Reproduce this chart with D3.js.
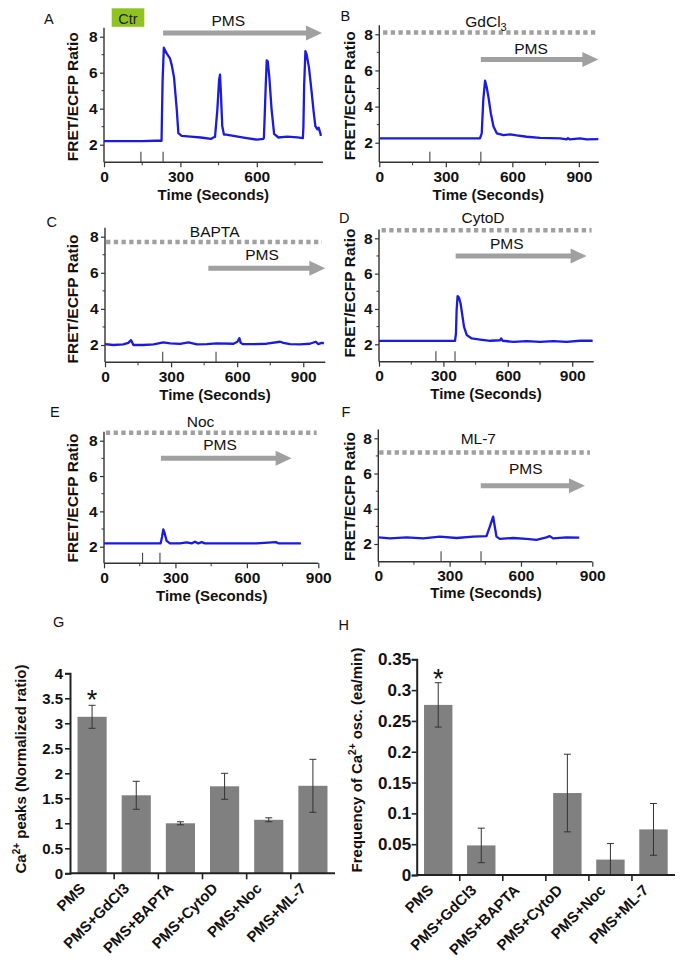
<!DOCTYPE html>
<html><head><meta charset="utf-8">
<script src="https://cdn.jsdelivr.net/npm/d3@7"></script>
<style>body{margin:0;background:#fff;}svg{display:block;}text{font-family:"Liberation Sans",Arial,Helvetica,sans-serif;}</style>
</head><body><svg id="c" width="682" height="966"></svg>
<script>
// ---------------- DATA ----------------
// Panel A (Ctr -> PMS)
const tA = [0,50,100,150,200,226,230,235,246,259,266,275,286,292,305,340,380,420,429,436,445,452,455.5,459,464.5,471,480,520,560,600,626,628,635,639,643,649,658,668,685,720,760,781,783,786,791,796,805,815,823,830,838,843,849,852];
const rA = [2.2,2.2,2.2,2.2,2.22,2.22,5.5,7.39,7.07,6.8,6.42,5.74,3.9,2.64,2.49,2.45,2.4,2.32,2.4,2.43,3.92,5.6,5.89,4.87,3.02,2.56,2.56,2.46,2.37,2.28,2.32,2.4,5.23,6.68,6.63,5.8,3.98,2.6,2.4,2.45,2.41,2.37,2.97,5.3,7.2,7.0,6.28,4.98,3.87,3.03,2.85,2.95,2.66,2.49];
const marksA = [145,232];
const pmsA = [232,856,8.2];

// Panel B (GdCl3)
const tB = [0,100,200,300,400,454,462,469,477,484,492,503,515,530,560,590,620,665,725,815,845,851,860,905,935,988];
const rB = [2.24,2.24,2.24,2.24,2.24,2.24,2.52,4.36,5.43,5.1,4.55,3.63,2.9,2.52,2.42,2.46,2.4,2.33,2.27,2.24,2.18,2.25,2.18,2.24,2.18,2.2];
const marksB = [228,458];
const pmsB = [458,988,6.6];
const drugB = [17,988,8.1];

// Panel C (BAPTA)
const tC = [0,38,83,106,118,129,174,220,265,296,341,379,417,462,507,583,601,610,616,625,674,734,795,810,840,885,930,957,968,983,994];
const rC = [2.05,2.0,2.03,2.12,2.27,2.0,2.0,2.03,2.15,2.09,2.06,2.14,2.03,2.05,2.09,2.07,2.18,2.38,2.12,2.05,2.05,2.07,2.18,2.12,2.05,2.03,2.07,2.18,2.05,2.12,2.1];
const marksC = [262,504];
const pmsC = [469,1000,6.25];
const drugC = [5,985,7.7];

// Panel D (CytoD)
const tD = [0,100,200,300,354,358.5,361.6,366,372.5,380,388,396,409,432,471,518,564,569,576,626,688,750,812,874,936,995];
const rD = [2.19,2.19,2.19,2.19,2.19,2.62,3.94,4.73,4.65,4.31,3.65,2.99,2.52,2.33,2.27,2.2,2.23,2.33,2.2,2.14,2.18,2.14,2.18,2.14,2.2,2.2];
const marksD = [265,354];
const pmsD = [357,967,7.0];
const drugD = [12,990,8.45];

// Panel E (Noc)
const tE = [0,100,200,238,244,249,255,263,277,319,347,368,382,396,410,424,543,640,722,732,780,827];
const rE = [2.19,2.19,2.19,2.19,2.57,2.98,2.75,2.33,2.19,2.19,2.25,2.19,2.28,2.19,2.26,2.19,2.19,2.19,2.26,2.19,2.19,2.19];
const marksE = [162,235];
const pmsE = [239,788,7.0];
const drugE = [8,893,8.45];

// Panel F (ML-7)
const tF = [0,49,119,189,259,329,399,455,469,483,490,497,511,567,623,665,707,721,735,791,845];
const rF = [2.38,2.32,2.38,2.32,2.42,2.34,2.42,2.45,2.98,3.55,2.98,2.42,2.29,2.34,2.29,2.23,2.38,2.45,2.32,2.38,2.36];
const marksF = [264,432];
const pmsF = [431,869,5.3];
const drugF = [4,890,7.2];

const ratioTicks = [2,4,6,8];
const ratioMinor = [3,5,7];
const timeTicks = [0,300,600,900];
const timeMinor = [150,450,750];

// Panels G, H
const categories = ["PMS","PMS+GdCl3","PMS+BAPTA","PMS+CytoD","PMS+Noc","PMS+ML-7"];
const peakMean = [3.13,1.56,1.0,1.74,1.07,1.75];
const peakErr  = [0.23,0.28,0.03,0.26,0.04,0.53];
const freqMean = [0.276,0.048,0,0.133,0.025,0.074];
const freqErr  = [0.036,0.028,0,0.063,0.026,0.042];
const peakTicks = [0,0.5,1,1.5,2,2.5,3,3.5,4];
const freqTicks = [0,0.05,0.1,0.15,0.2,0.25,0.3,0.35];

// ---------------- DRAWING ----------------
const svg = d3.select('#c');
const GRAY = '#a0a0a0', BLUE = '#1a1ae0', AX = '#333';

function addText(g, x, y, s, opt) {
  opt = opt || {};
  return g.append('text').attr('x', x).attr('y', y).text(s)
    .attr('font-size', opt.size || 15).attr('font-weight', opt.bold ? 'bold' : 'normal')
    .attr('text-anchor', opt.anchor || 'start').attr('fill', opt.fill || '#111');
}

function linePanel(p) {
  const x = d3.scaleLinear().domain([0, p.tMax]).range([p.x0, p.x1]);
  const y = d3.scaleLinear().domain([2, 8]).range([p.y2, p.y8]);
  const g = svg.append('g');
  const yAx = p.yAxisPix;
  const gy = g.append('g').attr('transform', `translate(${p.x0},0)`)
    .call(d3.axisLeft(y).tickValues(ratioTicks).tickSize(4).tickPadding(2.4).tickFormat(d3.format('d')));
  gy.select('.domain').remove();
  gy.selectAll('.tick line').attr('stroke', AX).attr('stroke-width', 1.2);
  gy.selectAll('text').attr('font-size', 15.5).attr('font-weight', 'bold').attr('fill', '#111');
  g.selectAll('.ymin').data(ratioMinor).join('line').attr('class','ymin')
    .attr('x1', p.x0 - 2.5).attr('x2', p.x0).attr('y1', d => y(d)).attr('y2', d => y(d))
    .attr('stroke', AX).attr('stroke-width', 1);
  g.append('line').attr('x1', p.x0).attr('x2', p.x0).attr('y1', yAx).attr('y2', y(8.5))
    .attr('stroke', AX).attr('stroke-width', 1.4);
  const gx = g.append('g').attr('transform', `translate(0,${yAx})`)
    .call(d3.axisBottom(x).tickValues(timeTicks.filter(d => d <= p.tMax)).tickSize(5).tickPadding(3.5).tickFormat(d3.format('d')));
  gx.select('.domain').remove();
  gx.selectAll('.tick line').attr('stroke', AX).attr('stroke-width', 1.2);
  gx.selectAll('text').attr('font-size', 15.5).attr('font-weight', 'bold').attr('fill', '#111');
  g.selectAll('.xmin').data(timeMinor.filter(d => d < p.tMax)).join('line').attr('class','xmin')
    .attr('x1', d => x(d)).attr('x2', d => x(d)).attr('y1', yAx).attr('y2', yAx + 3)
    .attr('stroke', AX).attr('stroke-width', 1);
  g.append('line').attr('x1', p.x0).attr('x2', p.x1).attr('y1', yAx).attr('y2', yAx)
    .attr('stroke', AX).attr('stroke-width', 1.4);
  g.selectAll('.mk').data(p.marks).join('line').attr('class','mk')
    .attr('x1', d => x(d)).attr('x2', d => x(d)).attr('y1', yAx).attr('y2', yAx - 10.5)
    .attr('stroke', '#444').attr('stroke-width', 1.1);
  if (p.drug) {
    g.append('line').attr('x1', x(p.drug[0])).attr('x2', x(p.drug[1]))
      .attr('y1', y(p.drug[2])).attr('y2', y(p.drug[2]))
      .attr('stroke', GRAY).attr('stroke-width', 4.5).attr('stroke-dasharray', '4.3,3.4');
  }
  const ay = y(p.pms[2]), ax0 = x(p.pms[0]), ax1 = x(p.pms[1]);
  g.append('line').attr('x1', ax0).attr('x2', ax1 - 14).attr('y1', ay).attr('y2', ay)
    .attr('stroke', GRAY).attr('stroke-width', 5);
  g.append('path').attr('d', `M${ax1},${ay} L${ax1-16},${ay-7.5} L${ax1-16},${ay+7.5} Z`).attr('fill', GRAY);
  const pts = p.t.map((t, i) => [t, p.r[i]]);
  g.append('path').datum(pts).attr('fill', 'none').attr('stroke', BLUE).attr('stroke-width', 2.3)
    .attr('stroke-linejoin', 'round')
    .attr('d', d3.line().x(d => x(d[0])).y(d => y(d[1])));
  addText(g, p.lab[0], p.lab[1], p.id, {size: 14.5});
  addText(g, p.pmsLab[0], p.pmsLab[1], 'PMS', {size: 15.5, anchor: 'middle'});
  if (p.drugName) {
    const tt = addText(g, p.drugLab[0], p.drugLab[1], p.drugName, {size: 15.5, anchor: 'middle'});
    if (p.drugSub) tt.append('tspan').attr('font-size', 11).attr('dy', 4).text(p.drugSub);
  }
  g.append('text').attr('transform', `translate(${p.yTitle[0]},${p.yTitle[1]}) rotate(-90)`)
    .attr('text-anchor', 'middle').attr('font-size', 15.5).attr('font-weight', 'bold').attr('fill', '#111')
    .text('FRET/ECFP Ratio');
  addText(g, p.xTitle[0], p.xTitle[1], 'Time (Seconds)', {size: 15, bold: true, anchor: 'middle'});
}

const lay = [
  {id:'A', t:tA, r:rA, marks:marksA, pms:pmsA, drug:null, tMax:860, x0:104, x1:323.0, y2:144.7, y8:36.7, yAxisPix:162.3,
   lab:[44,24], pmsLab:[228.3,26], yTitle:[78,96.7], xTitle:[213.3,200]},
  {id:'B', t:tB, r:rB, marks:marksB, pms:pmsB, drug:drugB, tMax:990, x0:379.3, x1:598.8, y2:142.7, y8:34.3, yAxisPix:162.3,
   lab:[340.5,20.5], pmsLab:[531,54], drugName:'GdCl', drugSub:'3', drugLab:[486,26.5], yTitle:[355,95.8], xTitle:[488.3,200]},
  {id:'C', t:tC, r:rC, marks:marksC, pms:pmsC, drug:drugC, tMax:1000, x0:105, x1:325.3, y2:345, y8:236.7, yAxisPix:362.3,
   lab:[46.5,226.5], pmsLab:[262,260], drugName:'BAPTA', drugLab:[214.7,236.5], yTitle:[78.3,299], xTitle:[215,400]},
  {id:'D', t:tD, r:rD, marks:marksD, pms:pmsD, drug:drugD, tMax:1000, x0:379, x1:593.7, y2:344.3, y8:238.3, yAxisPix:361.7,
   lab:[339,223], pmsLab:[506.7,249.3], drugName:'CytoD', drugLab:[483,223.3], yTitle:[355,293], xTitle:[486,398.5]},
  {id:'E', t:tE, r:rE, marks:marksE, pms:pmsE, drug:drugE, tMax:900, x0:104, x1:318.3, y2:546.7, y8:440.7, yAxisPix:563.3,
   lab:[50,416.5], pmsLab:[220,450], drugName:'Noc', drugLab:[200.5,426.5], yTitle:[78.3,498], xTitle:[211.7,601]},
  {id:'F', t:tF, r:rF, marks:marksF, pms:pmsF, drug:drugF, tMax:900, x0:378.3, x1:592.3, y2:544, y8:438.3, yAxisPix:561.7,
   lab:[341.5,416.5], pmsLab:[525.7,474.3], drugName:'ML-7', drugLab:[478.3,444], yTitle:[355,496.5], xTitle:[486,598]}
];
lay.forEach(linePanel);

svg.append('rect').attr('x', 111.7).attr('y', 8.3).attr('width', 32.6).attr('height', 18.5).attr('fill', '#8fc31f');
addText(svg, 128, 23.5, 'Ctr', {size: 14.5, anchor: 'middle', fill: '#222'});

function barPanel(o) {
  const x = d3.scaleBand().domain(categories).range([o.x0, o.x1]).paddingInner(0.34).paddingOuter(0.17);
  const y = d3.scaleLinear().domain([0, o.yMax]).range([o.yb, o.yt]);
  const g = svg.append('g');
  const rows = categories.map((c, i) => ({c, m: o.mean[i], e: o.err[i]}));
  g.selectAll('rect.bar').data(rows).join('rect').attr('class','bar')
    .attr('x', d => x(d.c)).attr('width', x.bandwidth())
    .attr('y', d => y(d.m)).attr('height', d => o.yb - y(d.m)).attr('fill', '#808080');
  const eb = rows.filter(d => d.m > 0 || d.e > 0);
  const cx = d => x(d.c) + x.bandwidth() / 2;
  g.selectAll('line.ev').data(eb).join('line').attr('class','ev')
    .attr('x1', cx).attr('x2', cx).attr('y1', d => y(d.m + d.e)).attr('y2', d => y(Math.max(0, d.m - d.e)))
    .attr('stroke', '#333').attr('stroke-width', 1);
  ['top','bot'].forEach(k => {
    g.selectAll('line.c' + k).data(eb).join('line').attr('class', 'c' + k)
      .attr('x1', d => cx(d) - 3.5).attr('x2', d => cx(d) + 3.5)
      .attr('y1', d => y(k === 'top' ? d.m + d.e : Math.max(0, d.m - d.e)))
      .attr('y2', d => y(k === 'top' ? d.m + d.e : Math.max(0, d.m - d.e)))
      .attr('stroke', '#333').attr('stroke-width', 1);
  });
  const gy = g.append('g').attr('transform', `translate(${o.x0},0)`)
    .call(d3.axisLeft(y).tickValues(o.ticks).tickSize(5).tickPadding(o.pad).tickFormat(d => String(d)));
  gy.select('.domain').attr('stroke', '#222').attr('stroke-width', 2);
  gy.selectAll('.tick line').attr('stroke', '#222').attr('stroke-width', 1.6);
  gy.selectAll('text').attr('font-size', o.tickSize).attr('font-weight', 'bold').attr('fill', '#111');
  g.append('line').attr('x1', o.x0).attr('x2', o.x1).attr('y1', o.yb).attr('y2', o.yb)
    .attr('stroke', '#222').attr('stroke-width', 2);
  const bnd = d3.range(1, categories.length).map(k => o.x0 + k * x.step());
  g.selectAll('line.xt').data(bnd).join('line').attr('class','xt')
    .attr('x1', d => d).attr('x2', d => d).attr('y1', o.yb).attr('y2', o.yb + 6)
    .attr('stroke', '#222').attr('stroke-width', 1.6);
  g.selectAll('text.xl').data(categories).join('text').attr('class','xl')
    .attr('transform', d => `translate(${x(d) + x.bandwidth() / 2 + o.lx},${o.yb + o.ly}) rotate(-45)`)
    .attr('text-anchor', 'end').attr('font-size', 15).attr('font-weight', 'bold').attr('fill', '#111')
    .text(d => d);
  g.append('text').attr('x', x(categories[0]) + x.bandwidth() / 2).attr('y', o.starY)
    .attr('text-anchor', 'middle').attr('font-size', 27).attr('fill', '#111').text('*');
  const tt = g.append('text').attr('transform', `translate(${o.title[0]},${o.title[1]}) rotate(-90)`)
    .attr('text-anchor', 'middle').attr('font-size', 15).attr('font-weight', 'bold').attr('fill', '#111');
  tt.append('tspan').text(o.t1);
  tt.append('tspan').attr('font-size', 10).attr('dy', -6).text('2+');
  tt.append('tspan').attr('dy', 6).text(o.t2);
  addText(g, o.lab[0], o.lab[1], o.id, {size: 14.5});
}

barPanel({id:'G', mean:peakMean, err:peakErr, ticks:peakTicks, yMax:4, x0:70, x1:335, yb:873.3, yt:673.3,
  pad:2, tickSize:15, lx:-6, ly:16, starY:709, title:[26,769], t1:'Ca', t2:' peaks (Normalized ratio)', lab:[53,626.5]});
barPanel({id:'H', mean:freqMean, err:freqErr, ticks:freqTicks, yMax:0.35, x0:416.7, x1:675, yb:875, yt:659.3,
  pad:0.5, tickSize:17, lx:-4, ly:16, starY:688, title:[362,760], t1:'Frequency of Ca', t2:' osc. (ea/min)', lab:[338.5,630]});
</script>
</body></html>
